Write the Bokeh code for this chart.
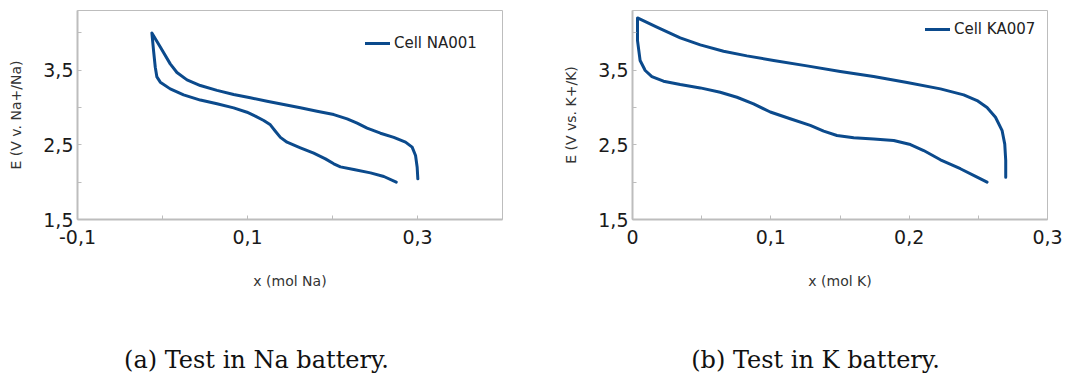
from bokeh.plotting import figure
from bokeh.layouts import row, column
from bokeh.models import (Range1d, FixedTicker, CustomJSTickFormatter, Legend,
                          LegendItem, Label)
from bokeh.embed import file_html
from bokeh.resources import INLINE

# ---- data ----
na_x = [0.275, 0.2604, 0.2447, 0.225, 0.2093, 0.2015, 0.1917, 0.1779, 0.1622,
        0.1465, 0.1387, 0.1328, 0.1269, 0.1191, 0.1092, 0.0994, 0.0837, 0.0641,
        0.0445, 0.0248, 0.0091, -0.0026, -0.0066, -0.0085, -0.0105, -0.0125,
        -0.0026, 0.0091, 0.017, 0.0288, 0.0445, 0.0641, 0.0837, 0.1033, 0.123,
        0.1426, 0.1622, 0.1818, 0.2015, 0.2172, 0.229, 0.2407, 0.2564, 0.2721,
        0.2859, 0.2937, 0.2977, 0.2996, 0.3004]
na_e = [2.00, 2.076, 2.125, 2.17, 2.205, 2.246, 2.3125, 2.388, 2.46,
        2.536, 2.60, 2.683, 2.768, 2.826, 2.884, 2.9375, 2.996, 3.05,
        3.10, 3.17, 3.25, 3.34, 3.41, 3.54, 3.76, 4.00,
        3.81, 3.585, 3.47, 3.37, 3.295, 3.23, 3.174, 3.13, 3.085,
        3.04, 2.996, 2.95, 2.906, 2.848, 2.79, 2.723, 2.656, 2.60,
        2.536, 2.469, 2.357, 2.20, 2.045]

k_x = [0.2563, 0.2491, 0.237, 0.2226, 0.2105, 0.2009, 0.1888, 0.1743, 0.1599,
       0.1478, 0.1382, 0.1285, 0.114, 0.0996, 0.0875, 0.0755, 0.0634, 0.049,
       0.0345, 0.0224, 0.014, 0.0092, 0.0055, 0.0036, 0.0036,
       0.0176, 0.0345, 0.049, 0.0658, 0.0827, 0.102, 0.1261, 0.1502, 0.1743,
       0.1985, 0.2226, 0.2394, 0.2491, 0.2563, 0.2624, 0.2672, 0.2691, 0.2698,
       0.2698]
k_e = [2.00, 2.067, 2.18, 2.30, 2.424, 2.504, 2.558, 2.58, 2.594,
       2.625, 2.683, 2.76, 2.85, 2.94, 3.049, 3.138, 3.205, 3.263,
       3.308, 3.353, 3.415, 3.496, 3.63, 3.90, 4.20,
       4.076, 3.933, 3.839, 3.754, 3.692, 3.63, 3.558, 3.482, 3.415,
       3.335, 3.25, 3.17, 3.094, 3.00, 2.87, 2.69, 2.51, 2.29,
       2.067]

y_major = [1.5, 2.5, 3.5]
y_minor = [2.0, 3.0, 4.0]
na_x_major = [-0.1, 0.1, 0.3]
na_x_minor = [0.0, 0.2]
k_x_major = [0.0, 0.1, 0.2, 0.3]
k_x_minor = [0.05, 0.15, 0.25]

series_names = ["Cell NA001", "Cell KA007"]
captions = ["(a) Test in Na battery.", "(b) Test in K battery."]
x_labels = ["x (mol Na)", "x (mol K)"]
y_labels = ["E (V v. Na+/Na)", "E (V vs. K+/K)"]

LINE = "#0b4a8c"
GRAY = "#bdbdbd"
FONT = "DejaVu Sans"
PLOT_H = 328
CAP_H = 373 - PLOT_H

fmt_code = "return tick === 0 ? '0' : tick.toFixed(1).replace('.', ',');"


def make_panel(xs, es, xr, xmaj, xmin, name, xl, yl, width, bl, br, leg_loc):
    p = figure(width=width, height=PLOT_H, output_backend="svg",
               toolbar_location=None, x_range=Range1d(*xr),
               y_range=Range1d(1.5, 4.3),
               min_border_left=bl, min_border_right=br,
               min_border_top=10, min_border_bottom=PLOT_H - 219)
    p.xgrid.visible = False
    p.ygrid.visible = False
    p.outline_line_color = GRAY
    p.outline_line_width = 1
    p.background_fill_color = "white"
    p.border_fill_color = "white"

    r = p.line(xs, es, line_color=LINE, line_width=3, line_join="round",
               line_cap="round")

    for ax, ticks, minors in ((p.xaxis[0], xmaj, xmin),
                              (p.yaxis[0], y_major, y_minor)):
        ax.ticker = FixedTicker(ticks=ticks, minor_ticks=minors)
        ax.formatter = CustomJSTickFormatter(code=fmt_code)
        ax.axis_line_color = GRAY
        ax.axis_line_width = 2
        ax.major_tick_line_color = GRAY
        ax.minor_tick_line_color = GRAY
        ax.major_tick_in = 4
        ax.major_tick_out = 0
        ax.minor_tick_in = 4
        ax.minor_tick_out = 0
        ax.major_label_text_font = FONT
        ax.major_label_text_font_size = "19px"
        ax.major_label_text_color = "#1a1a1a"
        ax.axis_label_text_font = FONT
        ax.axis_label_text_font_size = "14px"
        ax.axis_label_text_font_style = "normal"
        ax.axis_label_text_color = "#333333"

    p.xaxis.axis_label = xl
    p.yaxis.axis_label = yl
    p.xaxis.major_label_standoff = 10
    p.xaxis.axis_label_standoff = 26
    p.yaxis.major_label_standoff = 4
    p.yaxis.axis_label_standoff = 16

    leg = Legend(items=[LegendItem(label=name, renderers=[r])],
                 location=leg_loc, padding=0, margin=0, spacing=0,
                 glyph_width=25, glyph_height=20, label_height=20,
                 label_standoff=4, border_line_alpha=0,
                 background_fill_alpha=0, label_text_font=FONT,
                 label_text_font_size="15px", label_text_color="#222222")
    p.add_layout(leg)
    return p


p1 = make_panel(na_x, na_e, (-0.1, 0.4), na_x_major, na_x_minor,
                series_names[0], x_labels[0], y_labels[0],
                537, 77, 35, (288, 166))
p2 = make_panel(k_x, k_e, (0.0, 0.3), k_x_major, k_x_minor,
                series_names[1], x_labels[1], y_labels[1],
                538, 95, 28, (293, 180))

# caption strip below both panels
cap = figure(width=1075, height=CAP_H, output_backend="svg",
             toolbar_location=None, x_axis_location=None,
             y_axis_location=None, min_border=0,
             x_range=Range1d(0, 1), y_range=Range1d(0, 1))
cap.grid.visible = False
cap.outline_line_color = None
cap.border_fill_color = "white"
for cx, txt in zip((256, 815), captions):
    cap.add_layout(Label(x=cx, y=14, x_units="screen", y_units="screen",
                         text=txt, text_align="center",
                         text_baseline="alphabetic",
                         text_font="DejaVu Serif", text_font_size="24px",
                         text_color="#111111"))

layout = column(row(p1, p2), cap)
open("out.html", "w").write(file_html(layout, INLINE))
